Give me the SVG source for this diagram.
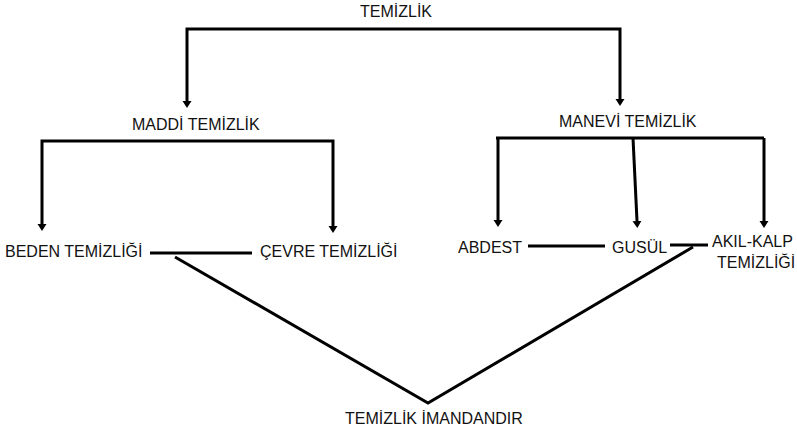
<svg xmlns="http://www.w3.org/2000/svg" width="797" height="433" viewBox="0 0 797 433">
  <style>
    .lbl { font-family: "Liberation Sans", Arial, sans-serif; font-size: 16px; fill: #111; }
    .ln { fill: none; stroke: #000; stroke-width: 3; }
    .arr { marker-end: url(#ah); }
  </style>
  <defs>
    <marker id="ah" markerUnits="userSpaceOnUse" markerWidth="8" markerHeight="10" refX="0" refY="4.5" orient="auto">
      <path d="M0,0 L7,4.5 L0,9 z" fill="#000"/>
    </marker>
  </defs>
  <rect width="797" height="433" fill="#fff"/>
  <g id="connectors">
    <path class="ln arr" d="M404,29 H187 V101"/>
    <path class="ln arr" d="M404,29 H620 V99"/>
    <path class="ln arr" d="M188,141 H42 V224"/>
    <path class="ln arr" d="M188,141 H333 V226"/>
    <path class="ln" d="M496,138 H764"/>
    <path class="ln arr" d="M498,138 V220"/>
    <path class="ln arr" d="M633,138 L637,221"/>
    <path class="ln arr" d="M764,138 V221"/>
    <path class="ln" d="M150,253 H252"/>
    <path class="ln" d="M528,246 H605"/>
    <path class="ln" d="M670,245 H708"/>
    <path class="ln" d="M175,257 L428,403 L693,247"/>
  </g>
  <g id="temizlik"><text class="lbl" x="360" y="17">TEMİZLİK</text></g>
  <g id="maddi"><text class="lbl" x="132" y="130">MADDİ TEMİZLİK</text></g>
  <g id="manevi"><text class="lbl" x="559" y="127">MANEVİ TEMİZLİK</text></g>
  <g id="beden"><text class="lbl" x="5" y="257">BEDEN TEMİZLİĞİ</text></g>
  <g id="cevre"><text class="lbl" x="260" y="257">ÇEVRE TEMİZLİĞİ</text></g>
  <g id="abdest"><text class="lbl" x="458" y="253">ABDEST</text></g>
  <g id="gusul"><text class="lbl" x="612" y="253">GUSÜL</text></g>
  <g id="akil"><text class="lbl" x="712" y="247">AKIL-KALP</text><text class="lbl" x="717" y="268">TEMİZLİĞİ</text></g>
  <g id="iman"><text class="lbl" x="345" y="424">TEMİZLİK İMANDANDIR</text></g>
</svg>
